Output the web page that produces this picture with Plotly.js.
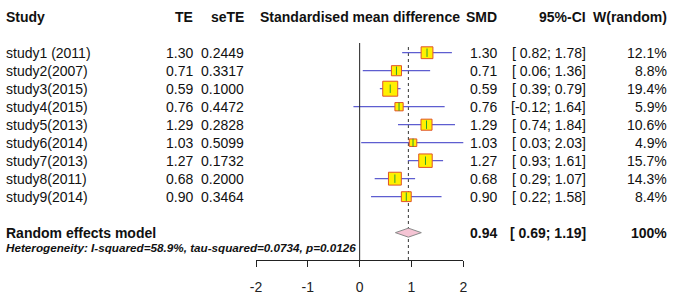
<!DOCTYPE html>
<html>
<head>
<meta charset="utf-8">
<script src="https://cdn.plot.ly/plotly-3.0.1.min.js"></script>
<style>html,body{margin:0;padding:0;background:#fff;}#chart{width:683px;height:297px;}</style>
</head>
<body>
<div id="chart"></div>
<script>
// ---- data ----
const studies = ["study1 (2011)", "study2(2007)", "study3(2015)", "study4(2015)", "study5(2013)",
                 "study6(2014)", "study7(2013)", "study8(2011)", "study9(2014)"];
const te = [1.30, 0.71, 0.59, 0.76, 1.29, 1.03, 1.27, 0.68, 0.90];
const seTE = [0.2449, 0.3317, 0.1000, 0.4472, 0.2828, 0.5099, 0.1732, 0.2000, 0.3464];
const ciLower = [0.82, 0.06, 0.39, -0.12, 0.74, 0.03, 0.93, 0.29, 0.22];
const ciUpper = [1.78, 1.36, 0.79, 1.64, 1.84, 2.03, 1.61, 1.07, 1.58];
const weights = [12.1, 8.8, 19.4, 5.9, 10.6, 4.9, 15.7, 14.3, 8.4];
const pooledLabel = "Random effects model";
const pooledSMD = 0.94;
const pooledLower = 0.69;
const pooledUpper = 1.19;
const pooledWeight = "100%";
const hetText = "Heterogeneity: I-squared=58.9%, tau-squared=0.0734, p=0.0126";
const xTicks = [-2, -1, 0, 1, 2];
const headers = {study: "Study", te: "TE", se: "seTE", plot: "Standardised mean difference",
                 smd: "SMD", ci: "95%-CI", w: "W(random)"};

// ---- layout helpers ----
const W = 683, H = 297;
const FONT = "Liberation Sans, Arial, sans-serif";
const px = p => p / W;                 // pixel x -> paper x
const rows = studies.map((_, i) => i + 1);
const pooledRow = 11, headerRow = -1, hetRow = 11.85;
const fmt2 = v => v.toFixed(2);
const fmtCI = (l, u) => "[" + (l < 0 ? fmt2(l) : " " + fmt2(l)) + "; " + fmt2(u) + "]";

const txtColor = "#111";
const annotations = [];
function addText(x, y, text, anchor, opts) {
  opts = opts || {};
  annotations.push({
    xref: opts.xref || "paper", yref: "y", x: x, y: y, text: text,
    xanchor: anchor, yanchor: "middle", showarrow: false,
    font: {family: FONT, size: opts.size || 14, color: txtColor},
  });
}
const b = s => "<b>" + s + "</b>";

// headers
addText(px(4), headerRow, b(headers.study), "left");
addText(px(195), headerRow, b(headers.te), "right");
addText(px(246), headerRow, b(headers.se), "right");
addText(0, headerRow, b(headers.plot), "center", {xref: "x"});
addText(px(499), headerRow, b(headers.smd), "right");
addText(px(588), headerRow, b(headers.ci), "right");
addText(px(669), headerRow, b(headers.w), "right");

// study rows
studies.forEach((s, i) => {
  const y = rows[i];
  addText(px(4), y, s, "left");
  addText(px(195), y, fmt2(te[i]), "right");
  addText(px(246), y, seTE[i].toFixed(4), "right");
  addText(px(499), y, fmt2(te[i]), "right");
  addText(px(588), y, fmtCI(ciLower[i], ciUpper[i]), "right");
  addText(px(669), y, weights[i].toFixed(1) + "%", "right");
});

// pooled row
addText(px(4), pooledRow, b(pooledLabel), "left");
addText(px(499), pooledRow, b(fmt2(pooledSMD)), "right");
addText(px(588), pooledRow, b(fmtCI(pooledLower, pooledUpper)), "right");
addText(px(669), pooledRow, b(pooledWeight), "right");
addText(px(4), hetRow, "<b><i>" + hetText + "</i></b>", "left", {size: 11.7});

// ---- traces ----
const ciTrace = {
  type: "scatter", mode: "markers", x: te, y: rows,
  marker: {symbol: "square", size: weights.map(w => 3.4 * Math.sqrt(w)), opacity: 1,
           color: "#FFF000", line: {color: "#E0532A", width: 1}},
  error_x: {type: "data", symmetric: false,
            array: ciUpper.map((u, i) => u - te[i]),
            arrayminus: ciLower.map((l, i) => te[i] - l),
            color: "#5E5ED0", thickness: 1.2, width: 0},
  hoverinfo: "skip", showlegend: false, cliponaxis: false,
};
const tickTrace = {
  type: "scatter", mode: "markers", x: te, y: rows,
  marker: {symbol: "line-ns-open", size: 6, line: {color: "#222", width: 1}},
  hoverinfo: "skip", showlegend: false, cliponaxis: false,
};
const dh = 0.25;
const diamond = {
  type: "scatter", mode: "lines",
  x: [pooledLower, pooledSMD, pooledUpper, pooledSMD, pooledLower],
  y: [pooledRow, pooledRow - dh, pooledRow, pooledRow + dh, pooledRow],
  fill: "toself", fillcolor: "#F5C4D4", line: {color: "#8A8A8A", width: 1},
  hoverinfo: "skip", showlegend: false, cliponaxis: false,
};

const plotBottom = 260;
const layout = {
  width: W, height: H,
  margin: {l: 0, r: 0, t: 0, b: H - plotBottom, pad: 0},
  paper_bgcolor: "#fff", plot_bgcolor: "#fff",
  showlegend: false,
  xaxis: {
    domain: [256 / W, 463.3 / W], range: [-2, 2], tickvals: xTicks,
    ticktext: xTicks.map(String),
    showline: true, linecolor: "#222", linewidth: 1, mirror: false,
    ticks: "outside", ticklen: 6, tickwidth: 1, tickcolor: "#222",
    ticklabelstandoff: 8,
    showgrid: false, zeroline: false, fixedrange: true,
    tickfont: {family: FONT, size: 14, color: "#222"},
  },
  yaxis: {
    range: [12.52, -1.93], visible: false, showgrid: false, zeroline: false, fixedrange: true,
  },
  shapes: [
    {type: "line", xref: "x", yref: "paper", x0: 0, x1: 0, y0: 0, y1: (plotBottom - 43) / plotBottom,
     line: {color: "#222", width: 1}},
    {type: "line", xref: "x", yref: "paper", x0: pooledSMD, x1: pooledSMD, y0: 0, y1: (plotBottom - 45) / plotBottom,
     line: {color: "#333", width: 1, dash: "dot"}, layer: "below"},
  ],
  annotations: annotations,
};

Plotly.newPlot("chart", [diamond, ciTrace, tickTrace], layout, {staticPlot: true, displayModeBar: false});
</script>
</body>
</html>
